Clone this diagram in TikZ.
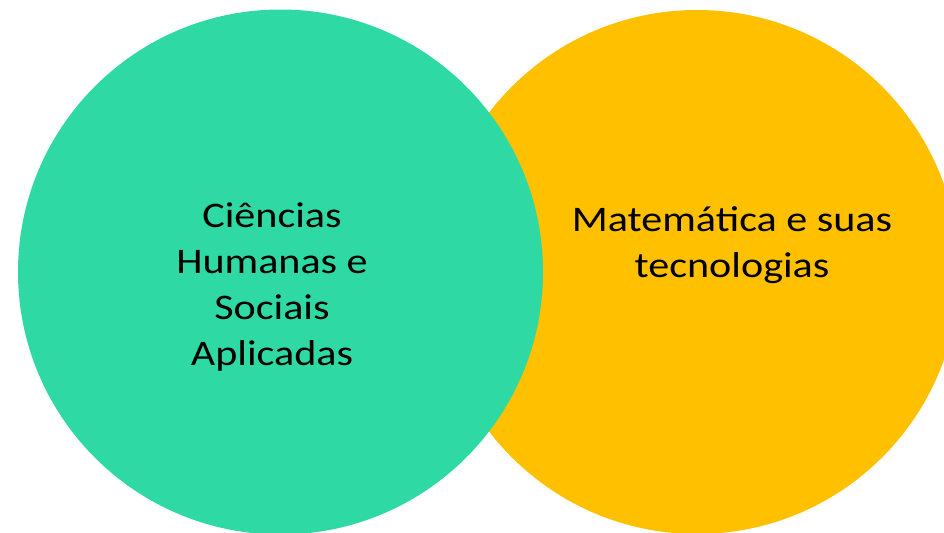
\documentclass[tikz,border=0pt]{standalone}
\usepackage{fontspec}
\setmainfont{Carlito}
\newfontfamily\rotulo[FakeStretch=1.17]{Carlito}
\definecolor{verde}{HTML}{2ED9A3}
\definecolor{ouro}{HTML}{FFC000}
\begin{document}
\begin{tikzpicture}[x=0.75pt,y=-0.75pt]
              \useasboundingbox (0,0) rectangle (944,532);
              \begin{scope}
                \clip (0,0) rectangle (944,532);
                \fill[ouro] (697,272) circle (262);
                \fill[verde] (280.5,272) circle (262.5);
              \end{scope}
              \begin{scope}[every node/.style={align=center, inner sep=0pt, anchor=base,
                  font=\rotulo\fontsize{27pt}{34.5pt}\selectfont}]
                \node (hum) at (272,365) {Ciências\\Humanas e\\Sociais\\Aplicadas};
                \node (mat) at (732,277) {Matemática e suas\\tecnologias};
              \end{scope}
            \end{tikzpicture}
\end{document}
